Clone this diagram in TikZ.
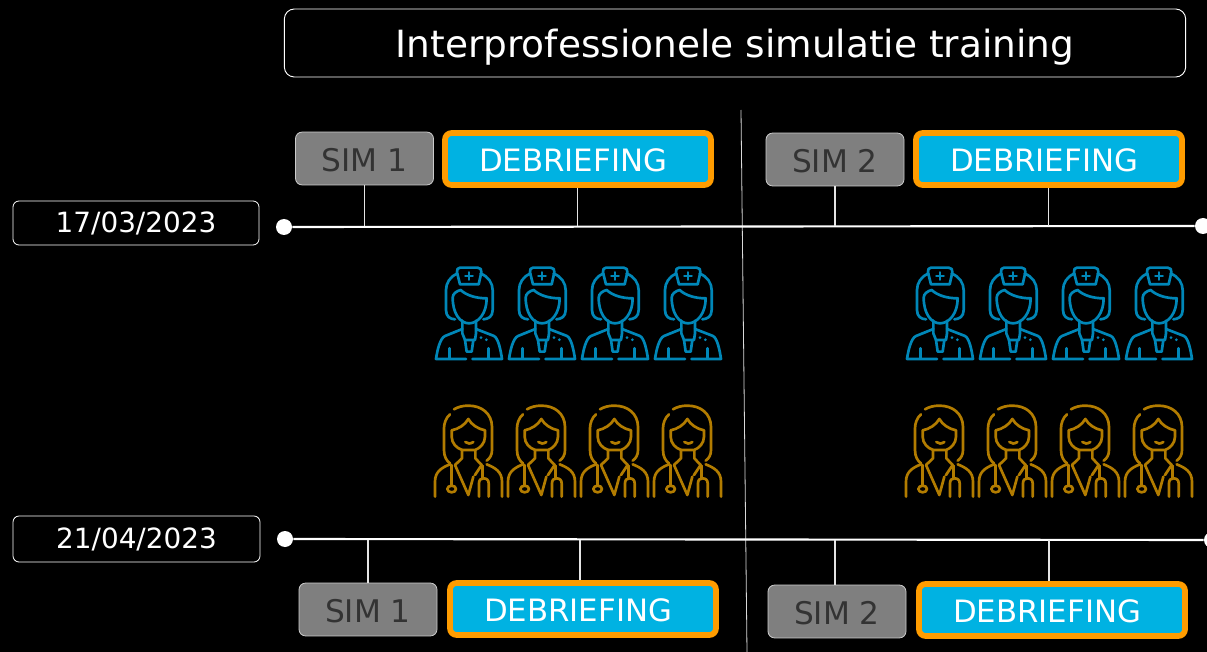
\documentclass[tikz,border=0pt]{standalone}
\usepackage{fontspec}
\setmainfont{DejaVu Sans}
\definecolor{nurseblue}{HTML}{0087B8}
\definecolor{docgold}{HTML}{B27C00}
\definecolor{simgrey}{HTML}{7F7F7F}
\definecolor{simtext}{HTML}{333333}
\definecolor{debblue}{HTML}{00B2E2}
\definecolor{debedge}{HTML}{FF9C00}
\tikzset{
  x=0.75pt,y=-0.75pt,
  titlebox/.style={draw=white,line width=0.7pt,rounded corners=7.5pt,fill=black,text=white,inner sep=0pt,text height=22.5pt,text depth=0pt,font=\fontsize{28.1}{30}\selectfont},
  datebox/.style={draw=white,line width=0.6pt,rounded corners=4.5pt,fill=black,text=white,inner sep=0pt,text height=14.6pt,text depth=0pt,font=\fontsize{20.9}{24}\selectfont},
  simbox/.style={draw=white!80!black,line width=0.6pt,rounded corners=5pt,fill=simgrey,text=simtext,inner sep=0pt,minimum width=103.5pt,minimum height=39.7pt,text height=18.8pt,text depth=0pt,font=\fontsize{23.4}{26}\selectfont},
  debbox/.style={draw=debedge,line width=4.3pt,rounded corners=5pt,fill=debblue,text=white,inner sep=0pt,minimum width=199.5pt,minimum height=39pt,text height=18.8pt,text depth=0pt,font=\fontsize{23.1}{26}\selectfont},
  tline/.style={draw=white,line width=1.6pt},
  stem/.style={draw=white!90!black,line width=1.1pt},
  divider/.style={draw=white!85!black,line width=0.6pt},
  enddot/.style={circle,fill=white,inner sep=0pt,minimum size=12pt},
  iconline/.style={line width=2pt,line cap=round,line join=round,fill=none},
  nurse/.pic={
    \begin{scope}[x=0.25pt,y=-0.25pt,iconline,draw=nurseblue]
      \draw (90,38) -- (143,38) .. controls (152,38) and (155,44) .. (154,52) -- (146,88) -- (90,88) -- (81,52) .. controls (80,44) and (83,38) .. (90,38) -- cycle;
      \draw (117,52) -- (117,74) (106,63) -- (128,63);
      \draw (82,56) .. controls (60,64) and (48,85) .. (48,105) -- (48,165) .. controls (48,185) and (60,192) .. (75,193);
      \draw (152,56) .. controls (175,64) and (188,85) .. (188,105) -- (188,165) .. controls (188,185) and (175,192) .. (160,193);
      \draw (68,128) .. controls (68,116) and (80,108) .. (92,105) .. controls (110,122) and (140,130) .. (170,130) .. controls (170,175) and (145,205) .. (117,205) .. controls (90,205) and (68,175) .. (68,128) -- cycle;
      \draw (97,197) -- (97,235) -- (105,255) -- (135,255) -- (138,235) -- (138,197);
      \draw (105,255) -- (110,290) -- (125,290) -- (130,255);
      \draw (97,222) -- (45,243) .. controls (30,250) and (22,285) .. (18,312) -- (108,312);
      \draw (138,222) -- (192,243) .. controls (205,250) and (212,285) .. (216,312) -- (127,312);
      \draw (58,280) -- (58,311) (176,280) -- (176,311);
      \fill[nurseblue] (153,248) circle (4.5) (169,254) circle (4.5);
    \end{scope}
  },
  doctor/.pic={
    \begin{scope}[x=0.25pt,y=-0.25pt,iconline,draw=docgold]
      \draw (72,43) .. controls (85,35) and (100,32) .. (115,32) .. controls (155,32) and (185,55) .. (186,95) -- (186,165) .. controls (186,180) and (180,190) .. (170,197);
      \draw (60,58) .. controls (48,68) and (42,85) .. (42,100) -- (42,165) .. controls (42,185) and (50,198) .. (60,205);
      \draw (115,72) .. controls (105,90) and (85,102) .. (65,106) -- (65,125) .. controls (65,145) and (80,160) .. (97,165) -- (135,165) .. controls (150,160) and (165,145) .. (165,125) -- (165,106) .. controls (145,102) and (125,90) .. (115,72) -- cycle;
      \draw (106,141) .. controls (112,147) and (122,147) .. (130,141);
      \draw (96,165) -- (96,190) -- (75,210) (136,165) -- (136,190) -- (155,210);
      \draw (75,210) -- (115,300) -- (130,245);
      \draw (135,240) -- (155,210);
      \draw (60,208) .. controls (35,218) and (15,230) .. (15,260) -- (15,305);
      \draw (170,208) .. controls (195,218) and (216,230) .. (216,260) -- (216,305);
      \draw (65,210) -- (65,270);
      \draw (65,282) ellipse (13 and 10);
      \draw (158,212) -- (158,250);
      \draw (147,305) -- (147,265) .. controls (147,255) and (152,250) .. (160,250) .. controls (170,250) and (176,255) .. (176,265) -- (176,305);
    \end{scope}
  }
}
\begin{document}
\begin{tikzpicture}
\useasboundingbox (0,0) rectangle (1207,652);
\fill[black] (0,0) rectangle (1207,652);
% title
\node[titlebox,minimum width=676pt,minimum height=51pt] (title) at (735,43) {Interprofessionele simulatie training};
% divider
\coordinate (divtop) at (741,110);
\coordinate (divbot) at (747,652);
\draw[divider] (divtop) -- (divbot);
% dates
\node[datebox,minimum width=184.5pt,minimum height=33pt] (date1) at (136,223) {17/03/2023};
\node[datebox,minimum width=185.2pt,minimum height=34.5pt] (date2) at (136.5,539) {21/04/2023};
% timelines
\node[enddot] (d1l) at (284,227) {};
\node[enddot] (d1r) at (1203,226) {};
\node[enddot] (d2l) at (285,539) {};
\node[enddot] (d2r) at (1212,540) {};
\draw[tline] (d1l) -- (d1r);
\draw[tline] (d2l) -- (d2r);
% top boxes
\node[simbox] (s1) at (364.5,158.5) {SIM 1};
\node[debbox] (b1) at (578,159) {DEBRIEFING\hspace*{7.5pt}};
\node[simbox] (s2) at (835,159.5) {SIM 2};
\node[debbox] (b2) at (1049,159) {DEBRIEFING\hspace*{7.5pt}};
% bottom boxes
\node[simbox] (s3) at (368,609.5) {SIM 1};
\node[debbox] (b3) at (583,609) {DEBRIEFING\hspace*{7.5pt}};
\node[simbox] (s4) at (837,611.5) {SIM 2};
\node[debbox] (b4) at (1052,610) {DEBRIEFING\hspace*{7.5pt}};
% stems
\coordinate (t1) at (364.5,226.5);
\coordinate (t2) at (577.5,226.5);
\coordinate (t3) at (835,226);
\coordinate (t4) at (1048.5,226);
\coordinate (u1) at (368,539.5);
\coordinate (u2) at (580,539.5);
\coordinate (u3) at (835,539.5);
\coordinate (u4) at (1049,539.5);
\draw[stem] (s1.south -| t1) -- (t1);
\draw[stem] (b1.south -| t2) -- (t2);
\draw[stem] (s2.south -| t3) -- (t3);
\draw[stem] (b2.south -| t4) -- (t4);
\draw[stem] (s3.north -| u1) -- (u1);
\draw[stem] (b3.north -| u2) -- (u2);
\draw[stem] (s4.north -| u3) -- (u3);
\draw[stem] (b4.north -| u4) -- (u4);
% icons
\foreach \xx in {430,503,576,649,901,974,1047,1120} {
  \pic at (\xx,255) {nurse};
  \pic at (\xx,395) {doctor};
}
\end{tikzpicture}
\end{document}
